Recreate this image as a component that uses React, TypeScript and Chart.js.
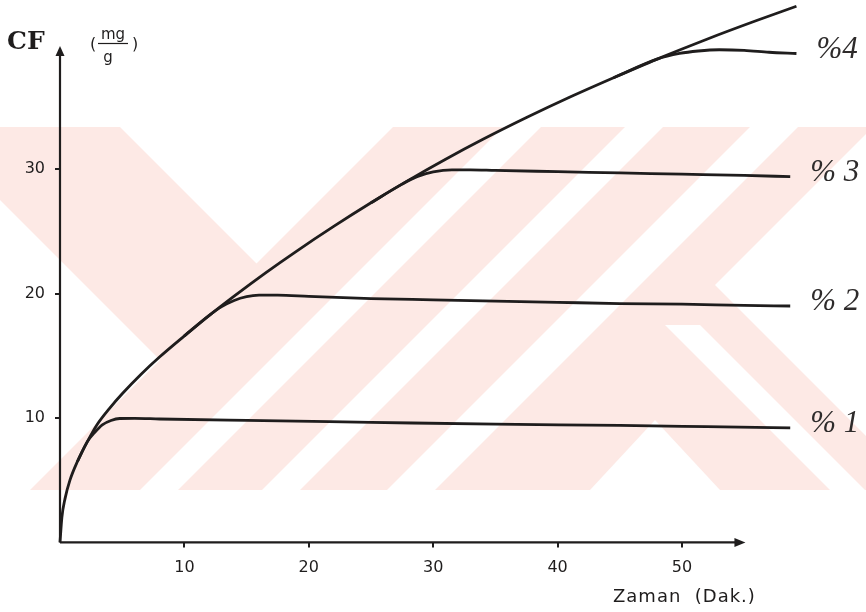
import { useEffect, useRef } from "react";
import { Chart, registerables } from "chart.js";

Chart.register(...registerables);

// Time (min) vs CF (mg/g): common envelope and the four plateau branches
const ENVELOPE_X = [0, 0.15, 0.4, 0.8, 1.4, 2.2, 3.0, 4.0, 5.0, 6.5, 8, 10, 12, 14, 16.5, 19, 22, 25, 28, 31, 34, 37.5, 41, 44.5, 48, 52, 56, 59.2];
const ENVELOPE_Y = [0, 2.0, 3.5, 5.0, 6.5, 8.1, 9.5, 10.8, 11.95, 13.5, 14.9, 16.6, 18.25, 19.8, 21.65, 23.4, 25.4, 27.3, 29.1, 30.8, 32.4, 34.15, 35.8, 37.35, 38.85, 40.45, 41.95, 43.1];

const P1_X = [1.4, 2.2, 2.8, 3.4, 4.1, 4.8, 6, 8, 15, 25, 35, 45, 52, 58.7];
const P1_Y = [6.5, 8.1, 8.85, 9.45, 9.8, 9.96, 9.97, 9.92, 9.8, 9.65, 9.5, 9.4, 9.3, 9.2];

const P2_X = [10, 12, 13, 14, 15, 16, 17.5, 20, 25, 30, 35, 40, 45, 50, 55, 58.7];
const P2_Y = [16.6, 18.25, 18.95, 19.45, 19.75, 19.87, 19.88, 19.78, 19.6, 19.5, 19.4, 19.3, 19.2, 19.15, 19.05, 19.0];

const P3_X = [25, 27.5, 28.7, 30, 31.5, 33, 35, 40, 45, 50, 55, 58.7];
const P3_Y = [27.3, 28.8, 29.4, 29.78, 29.95, 29.95, 29.9, 29.8, 29.7, 29.6, 29.5, 29.4];

const P4_X = [44.5, 48, 49.8, 51.3, 53, 55, 57, 59.2];
const P4_Y = [37.35, 38.85, 39.3, 39.5, 39.6, 39.55, 39.4, 39.3];

const SERIES_LABELS = ["% 1", "% 2", "% 3", "%4"];

const X_TICKS = [10, 20, 30, 40, 50];
const Y_TICKS = [10, 20, 30];
const X_MAX = 60;
const Y_MAX = 43.6;
const X_ARROW_TIP = 55.1;
const Y_ARROW_TIP = 39.9;

const Y_TITLE = "CF";
const UNIT_TOP = "mg";
const UNIT_BOTTOM = "g";
const X_TITLE = "Zaman  (Dak.)";

const INK = "#1f1d1d";
const PINK = "rgb(253,233,229)";
const W = 866;
const H = 612;
const PX_PER_UNIT = 12.44;
const AXIS_LEFT = 60;

const toPoints = (xs: number[], ys: number[]) => xs.map((x, i) => ({ x, y: ys[i] }));

// Faint diagonal background pattern of the scanned sheet
const backdrop = {
  id: "backdrop",
  beforeDraw(chart: any) {
    const ctx = chart.ctx as CanvasRenderingContext2D;
    const sx = chart.width / W;
    const sy = chart.height / H;
    const poly = (pts: number[][], color: string) => {
      ctx.beginPath();
      pts.forEach(([x, y], i) => (i ? ctx.lineTo(x * sx, y * sy) : ctx.moveTo(x * sx, y * sy)));
      ctx.closePath();
      ctx.fillStyle = color;
      ctx.fill();
    };
    ctx.save();
    ctx.fillStyle = "#ffffff";
    ctx.fillRect(0, 0, chart.width, chart.height);
    poly([[0, 127], [W, 127], [W, 490], [0, 490]], PINK);
    const white = "#ffffff";
    poly([[120, 127], [393, 127], [256.5, 263.5]], white);
    poly([[0, 200], [160, 360], [30, 490], [0, 490]], white);
    poly([[503, 127], [541, 127], [178, 490], [140, 490]], white);
    poly([[625, 127], [663, 127], [300, 490], [262, 490]], white);
    poly([[750, 127], [798, 127], [435, 490], [387, 490]], white);
    poly([[590, 490], [655, 420], [720, 490]], white);
    poly([[665, 325], [700, 325], [865, 490], [830, 490]], white);
    poly([[715, 285], [W, 134], [W, 436]], white);
    ctx.restore();
  },
};

// Hand-drawn style axes with arrow heads, axis titles and unit
const axesDecor = {
  id: "axesDecor",
  afterDatasetsDraw(chart: any) {
    const ctx = chart.ctx as CanvasRenderingContext2D;
    const xs = chart.scales.x;
    const ys = chart.scales.y;
    const x0 = xs.getPixelForValue(0);
    const y0 = ys.getPixelForValue(0);
    const xEnd = xs.getPixelForValue(X_ARROW_TIP);
    const yEnd = ys.getPixelForValue(Y_ARROW_TIP);
    ctx.save();
    ctx.strokeStyle = INK;
    ctx.fillStyle = INK;
    ctx.lineWidth = 2.2;
    ctx.beginPath();
    ctx.moveTo(x0, y0);
    ctx.lineTo(x0, yEnd + 8);
    ctx.moveTo(x0, y0);
    ctx.lineTo(xEnd - 8, y0);
    ctx.stroke();
    // arrow heads
    ctx.beginPath();
    ctx.moveTo(x0, yEnd);
    ctx.lineTo(x0 - 4.5, yEnd + 10);
    ctx.lineTo(x0 + 4.5, yEnd + 10);
    ctx.closePath();
    ctx.fill();
    ctx.beginPath();
    ctx.moveTo(xEnd, y0);
    ctx.lineTo(xEnd - 11, y0 - 4.5);
    ctx.lineTo(xEnd - 11, y0 + 4.5);
    ctx.closePath();
    ctx.fill();

    // y title and unit fraction
    ctx.textBaseline = "alphabetic";
    ctx.textAlign = "left";
    ctx.font = 'bold 25px "DejaVu Serif"';
    ctx.fillText(Y_TITLE, 7, 49);
    ctx.font = '15px "DejaVu Sans"';
    ctx.textAlign = "center";
    ctx.fillText(UNIT_TOP, 113, 39);
    ctx.fillText(UNIT_BOTTOM, 108, 62);
    ctx.lineWidth = 1.2;
    ctx.beginPath();
    ctx.moveTo(98, 43.5);
    ctx.lineTo(128, 43.5);
    ctx.stroke();
    ctx.font = '16px "DejaVu Sans"';
    ctx.fillText("(", 93, 49);
    ctx.fillText(")", 135, 49);

    // x title
    ctx.textAlign = "left";
    ctx.font = '18px "DejaVu Sans"';
    (ctx as any).letterSpacing = "1px";
    ctx.fillText(X_TITLE, 613, 602);
    (ctx as any).letterSpacing = "0px";
    ctx.restore();
  },
};

// Series names written at the right end of each branch
const endLabels = {
  id: "endLabels",
  afterDatasetsDraw(chart: any) {
    const ctx = chart.ctx as CanvasRenderingContext2D;
    ctx.save();
    ctx.font = 'italic 31px "Liberation Serif"';
    ctx.fillStyle = "#2e2b2b";
    ctx.textBaseline = "middle";
    ctx.textAlign = "left";
    chart.data.datasets.forEach((ds: any, i: number) => {
      if (!ds.label || !ds.label.includes("%")) return;
      const meta = chart.getDatasetMeta(i);
      const last = meta.data[meta.data.length - 1];
      ctx.fillText(ds.label, last.x + 20, last.y - 4);
    });
    ctx.restore();
  },
};

export default function App() {
  const canvasRef = useRef<HTMLCanvasElement | null>(null);

  useEffect(() => {
    const canvas = canvasRef.current;
    if (!canvas) return;
    const lineStyle = {
      showLine: true,
      borderColor: INK,
      borderWidth: 2.8,
      pointRadius: 0,
      cubicInterpolationMode: "monotone" as const,
      clip: false as any,
    };
    const tickFont = { family: "DejaVu Sans", size: 16 };
    const chart = new Chart(canvas, {
      type: "scatter",
      data: {
        datasets: [
          { label: SERIES_LABELS[0], data: toPoints(P1_X, P1_Y), ...lineStyle },
          { label: SERIES_LABELS[1], data: toPoints(P2_X, P2_Y), ...lineStyle },
          { label: SERIES_LABELS[2], data: toPoints(P3_X, P3_Y), ...lineStyle },
          { label: SERIES_LABELS[3], data: toPoints(P4_X, P4_Y), ...lineStyle },
          { label: "envelope", data: toPoints(ENVELOPE_X, ENVELOPE_Y), ...lineStyle },
        ],
      },
      options: {
        responsive: false,
        animation: false,
        layout: { padding: { left: 0, top: 0, bottom: 0, right: W - AXIS_LEFT - PX_PER_UNIT * X_MAX } },
        plugins: { legend: { display: false }, tooltip: { enabled: false } },
        scales: {
          x: {
            type: "linear",
            min: 0,
            max: X_MAX,
            afterFit: (s: any) => {
              s.height = H - PX_PER_UNIT * Y_MAX;
              s.paddingLeft = 0;
              s.paddingRight = 0;
            },
            afterBuildTicks: (a: any) => {
              a.ticks = X_TICKS.map((v) => ({ value: v }));
            },
            grid: { drawOnChartArea: false, drawTicks: true, tickLength: 5, color: INK, lineWidth: 2 },
            border: { display: false },
            ticks: { padding: 11, font: tickFont, color: INK, maxRotation: 0 },
          },
          y: {
            type: "linear",
            min: 0,
            max: Y_MAX,
            afterFit: (s: any) => {
              s.width = AXIS_LEFT;
              s.paddingTop = 0;
              s.paddingBottom = 0;
            },
            afterBuildTicks: (a: any) => {
              a.ticks = Y_TICKS.map((v) => ({ value: v }));
            },
            grid: { drawOnChartArea: false, drawTicks: true, tickLength: 5, color: INK, lineWidth: 2 },
            border: { display: false },
            ticks: { padding: 10, font: tickFont, color: INK },
          },
        },
      },
      plugins: [backdrop, axesDecor, endLabels],
    });
    return () => chart.destroy();
  }, []);

  return (
    <div style={{ position: "fixed", left: 0, top: 0, width: W, height: H, background: "#fff" }}>
      <canvas ref={canvasRef} width={W} height={H} style={{ display: "block", width: W, height: H }} />
    </div>
  );
}
